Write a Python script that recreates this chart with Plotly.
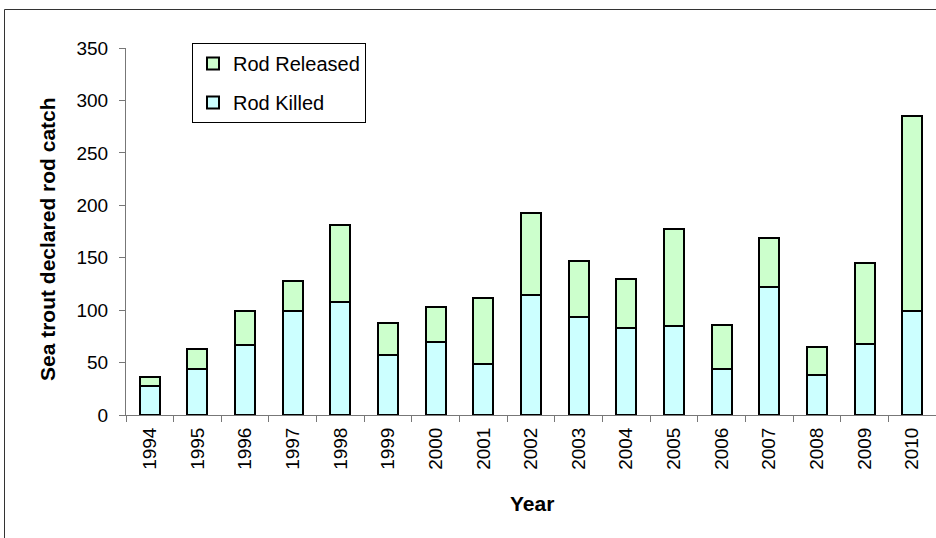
import plotly.graph_objects as go

years = [str(y) for y in range(1994, 2011)]
rod_killed = [28, 44, 67, 99, 108, 57, 70, 49, 114, 93, 83, 85, 44, 122, 38, 68, 99]
rod_total = [36, 63, 99, 128, 181, 88, 103, 112, 193, 147, 130, 177, 86, 169, 65, 145, 285]
rod_released = [t - k for t, k in zip(rod_total, rod_killed)]

FONT = "Liberation Sans, Arial, sans-serif"

fig = go.Figure()
fig.add_trace(go.Bar(
    x=years, y=rod_killed, name="Rod Killed", legendgroup="k", legendrank=2,
    marker=dict(color="#CCFFFF", line=dict(color="black", width=2)),
))
fig.add_trace(go.Bar(
    x=years, y=rod_released, name="Rod Released", legendgroup="r", legendrank=1,
    marker=dict(color="#CCFFCC", line=dict(color="black", width=2)),
))

L, R, T, B = 126, 0, 48, 123
W, H = 936, 538
pw, ph = W - L - R, H - T - B

def px_x(p):
    return (p - L) / pw

def px_y(p):
    return (H - B - p) / ph

fig.update_layout(
    width=W, height=H,
    barmode="stack", bargap=0.58,
    paper_bgcolor="white", plot_bgcolor="white",
    margin=dict(l=L, r=R, t=T, b=B, pad=0),
    font=dict(family=FONT, size=19, color="black"),
    showlegend=True,
    legend=dict(
        x=px_x(192), y=px_y(43), xanchor="left", yanchor="top",
        traceorder="grouped", tracegroupgap=10,
        bordercolor="black", borderwidth=1, bgcolor="white",
        font=dict(family=FONT, size=20, color="black"),
    ),
    xaxis=dict(
        type="category", tickangle=-90, tickson="boundaries",
        ticks="outside", ticklen=6, tickcolor="#777", tickwidth=1,
        showline=True, linecolor="#777", linewidth=1,
        showgrid=False, tickfont=dict(size=19), ticklabelstandoff=4,
    ),
    yaxis=dict(
        range=[0, 350], dtick=50, tick0=0,
        ticks="outside", ticklen=6, tickcolor="#777", tickwidth=1,
        showline=True, linecolor="#777", linewidth=1,
        showgrid=False, zeroline=False, tickfont=dict(size=19), ticklabelstandoff=7,
    ),
    annotations=[
        dict(text="<b>Year</b>", xref="paper", yref="paper",
             x=px_x(532), y=px_y(503), xanchor="center", yanchor="middle",
             showarrow=False, font=dict(family=FONT, size=21)),
        dict(text="<b>Sea trout declared rod catch</b>", xref="paper", yref="paper",
             x=px_x(47), y=px_y(239), xanchor="center", yanchor="middle",
             textangle=-90, showarrow=False, font=dict(family=FONT, size=21)),
    ],
    shapes=[
        dict(type="rect", xref="paper", yref="paper",
             x0=px_x(4.5), x1=px_x(945), y0=px_y(9.5), y1=px_y(560),
             line=dict(color="#333", width=1), fillcolor="rgba(0,0,0,0)", layer="below"),
    ],
)

fig.write_html(
    "out.html",
    config={"displayModeBar": False},
    post_script="document.body.style.margin='0';document.body.style.overflow='hidden';",
)
